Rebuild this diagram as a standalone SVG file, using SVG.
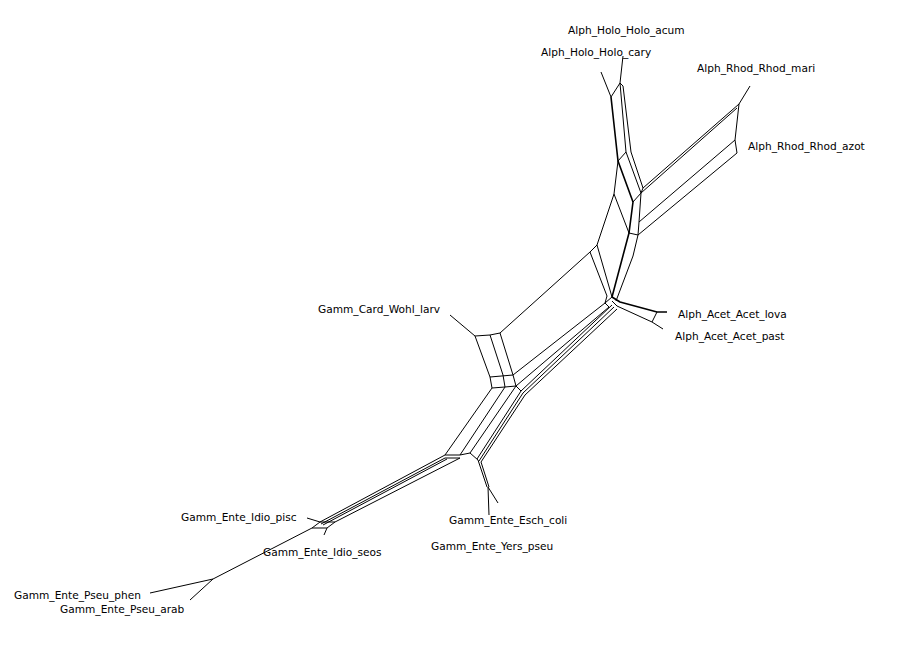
<svg xmlns="http://www.w3.org/2000/svg" width="900" height="649" viewBox="0 0 900 649">
<style>
.e{fill:none;stroke:#000;stroke-width:1;stroke-linejoin:round}
.t{fill:none;stroke:#000;stroke-width:1.6;stroke-linejoin:round}
text{font-family:"DejaVu Sans","Liberation Sans",sans-serif;font-size:10.6px;fill:#000}
</style>
<rect width="900" height="649" fill="#fff"/>
<g id="connectors">
<!-- Holo -->
<polyline class="e" points="623,56 620,83"/>
<polyline class="e" points="601,72 611,97"/>
<polyline class="e" points="620,83 611,97"/>
<polyline class="t" points="611,97 618,161 633,202 629,233 612,297"/>
<polyline class="e" points="620,83 626,152 618,161"/>
<polyline class="e" points="620,83 623,86 631,152 643,188"/>
<polyline class="e" points="626,152 641,193"/>
<polyline class="e" points="643,188 641,193 639,222 638,235 629,233"/>
<polyline class="e" points="633,202 641,193"/>
<polyline class="e" points="638,235 633,256 616,301"/>
<!-- Rhod -->
<polyline class="e" points="750,86 739,104"/>
<polyline class="e" points="739,104 735,140 737,153"/>
<polyline class="e" points="739,104 643,188"/>
<polyline class="e" points="737,108 641,193"/>
<polyline class="e" points="735,140 639,222"/>
<polyline class="e" points="737,153 638,235"/>
<!-- big box -->
<polyline class="e" points="618,161 614,194 597,245 590,252 500,333"/>
<polyline class="e" points="614,194 629,233"/>
<polyline class="e" points="597,245 610,290 612,297"/>
<polyline class="e" points="590,252 607,296 605,303"/>
<polyline class="e" points="612,297 605,303 513,375"/>
<!-- Acet -->
<polyline class="t" points="612,297 620,302 657,312 667,312"/>
<polyline class="e" points="612,301 617,306 652,322 663,329"/>
<polyline class="e" points="657,312 652,322"/>
<polyline class="e" points="605,303 609,307 516,386"/>
<polyline class="e" points="612,305 521,391"/>
<polyline class="e" points="614,307 523,393"/>
<polyline class="e" points="617,309 525,395"/>
<!-- Card -->
<polyline class="e" points="450,315 475,336 490,335 500,333"/>
<polyline class="e" points="475,336 490,377 492,388"/>
<polyline class="e" points="490,335 503,375 505,387"/>
<polyline class="e" points="500,333 513,375 516,386"/>
<polyline class="e" points="490,377 513,375"/>
<polyline class="e" points="492,388 505,387 516,386 521,391"/>
<!-- lower band -->
<polyline class="e" points="492,388 445,455"/>
<polyline class="e" points="505,387 460,455"/>
<polyline class="e" points="516,386 470,453"/>
<polyline class="e" points="521,391 477,459"/>
<polyline class="e" points="523,393 479,461"/>
<polyline class="e" points="525,395 481,462"/>
<polyline class="e" points="445,455 460,455 470,453 478,460"/>
<polyline class="e" points="445,458 460,458"/>
<!-- Esch / Yers -->
<polyline class="e" points="478,460 487,487"/>
<polyline class="e" points="481,462 489,487"/>
<polyline class="e" points="488,487 498,503"/>
<polyline class="e" points="488,487 489,515"/>
<!-- long band -->
<polyline class="e" points="445,455 320,522"/>
<polyline class="e" points="445,458 321,524"/>
<polyline class="e" points="447,459 323,525"/>
<polyline class="e" points="460,458 335,522"/>
<!-- Idio -->
<polyline class="e" points="307,518 320,522 335,522 327,528 312,528 320,522"/>
<polyline class="e" points="327,528 324,535"/>
<polyline class="e" points="312,528 213,579"/>
<!-- Pseu -->
<polyline class="e" points="213,579 150,593"/>
<polyline class="e" points="213,579 190,600"/>
</g>
<g id="Alph_Holo_Holo_acum"><text x="568" y="34">Alph_Holo_Holo_acum</text></g>
<g id="Alph_Holo_Holo_cary"><text x="541" y="56">Alph_Holo_Holo_cary</text></g>
<g id="Alph_Rhod_Rhod_mari"><text x="697" y="72">Alph_Rhod_Rhod_mari</text></g>
<g id="Alph_Rhod_Rhod_azot"><text x="748" y="150">Alph_Rhod_Rhod_azot</text></g>
<g id="Alph_Acet_Acet_lova"><text x="678" y="318">Alph_Acet_Acet_lova</text></g>
<g id="Alph_Acet_Acet_past"><text x="675" y="340">Alph_Acet_Acet_past</text></g>
<g id="Gamm_Card_Wohl_larv"><text x="318" y="313">Gamm_Card_Wohl_larv</text></g>
<g id="Gamm_Ente_Esch_coli"><text x="449" y="524">Gamm_Ente_Esch_coli</text></g>
<g id="Gamm_Ente_Yers_pseu"><text x="431" y="550">Gamm_Ente_Yers_pseu</text></g>
<g id="Gamm_Ente_Idio_pisc"><text x="181" y="521">Gamm_Ente_Idio_pisc</text></g>
<g id="Gamm_Ente_Idio_seos"><text x="263" y="556">Gamm_Ente_Idio_seos</text></g>
<g id="Gamm_Ente_Pseu_phen"><text x="14" y="599">Gamm_Ente_Pseu_phen</text></g>
<g id="Gamm_Ente_Pseu_arab"><text x="60" y="613">Gamm_Ente_Pseu_arab</text></g>
</svg>
